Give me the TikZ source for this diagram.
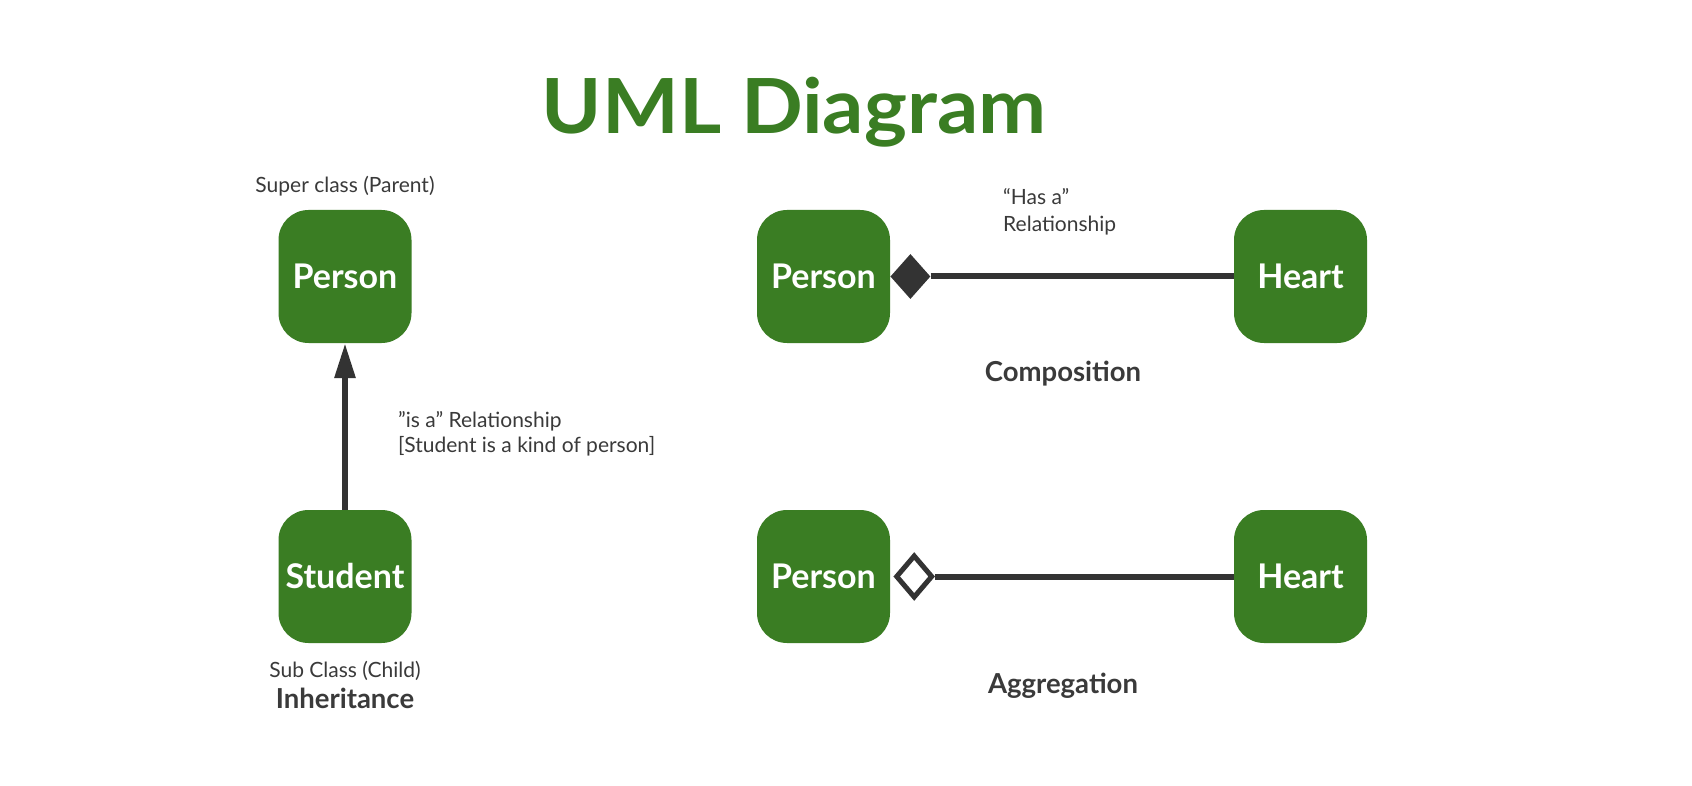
\documentclass[tikz,border=0pt]{standalone}
\usepackage{fontspec}
\usepackage{graphicx}
\setmainfont{Lato}
\usetikzlibrary{arrows.meta,shapes.geometric}
\definecolor{umlgreen}{HTML}{3A7D23}
\definecolor{ink}{HTML}{333333}
\definecolor{txt}{HTML}{3A3A3A}
\begin{document}
\begin{tikzpicture}[x=1pt,y=-1pt,
  cls/.style={draw=none,fill=umlgreen,rounded corners=30pt,minimum width=133pt,minimum height=133pt,inner sep=0pt,text=white,font=\fontsize{34}{40}\selectfont\bfseries},
  lbl/.style={text=txt,font=\fontsize{21}{25}\selectfont,inner sep=0pt},
  captxt/.style={text=txt,font=\fontsize{27.5}{32}\selectfont\bfseries,inner sep=0pt},
  conn/.style={draw=ink,line width=6pt},
  dia/.style={diamond,inner sep=0pt,minimum width=40pt,minimum height=45pt,anchor=west}]
\useasboundingbox[fill=white] (0,0) rectangle (1692,786);
% title
\node[anchor=base,text=umlgreen,font=\fontsize{76}{82}\selectfont\bfseries,inner sep=0pt] (title) at (794,134) {\scalebox{1.07}[1]{UML Diagram}};
% inheritance
\node[cls] (sup) at (345,276.5) {Person};
\node[cls] (stu) at (345,576.5) {Student};
\draw[conn,-{Triangle[length=35pt,width=20pt]}] (stu.north) -- (sup.south);
\node[lbl,anchor=base] (suplbl) at (345,193) {Super class (Parent)};
\node[lbl,anchor=base] (sublbl) at (345,677) {Sub Class (Child)};
\node[captxt,anchor=base] (inh) at (345,708) {Inheritance};
\node[lbl,anchor=base west] (isa1) at (398,427) {”is a” Relationship};
\node[lbl,anchor=base west] (isa2) at (398,452) {[Student is a kind of person]};
% composition
\node[cls] (p1) at (823.5,276.5) {Person};
\node[cls] (h1) at (1300.5,276.5) {Heart};
\node[dia,fill=ink] (d1) at (p1.east) {};
\draw[conn] (d1.east) -- (h1.west);
\node[lbl,anchor=base west] (has1) at (1003,205) {“Has a”};
\node[lbl,anchor=base west] (has2) at (1003,232) {Relationship};
\node[captxt,anchor=base] (comp) at (1063,381) {Composition};
% aggregation
\node[cls] (p2) at (823.5,576.5) {Person};
\node[cls] (h2) at (1300.5,576.5) {Heart};
\node[dia,draw=ink,fill=white,line width=5pt,minimum width=37pt,minimum height=43pt] (d2) at ([xshift=3pt]p2.east) {};
\draw[conn] (d2.east) -- (h2.west);
\node[captxt,anchor=base] (agg) at (1063,693) {Aggregation};
\end{tikzpicture}
\end{document}
